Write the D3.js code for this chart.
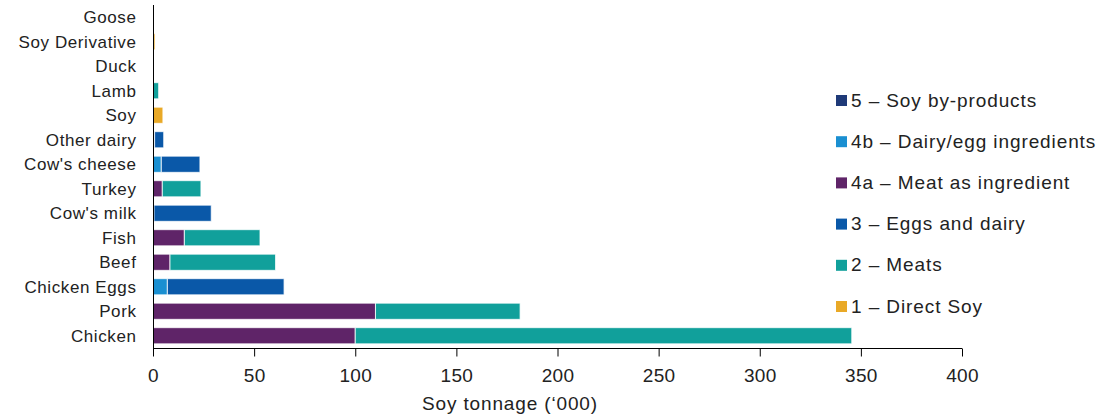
<!DOCTYPE html>
<html><head><meta charset="utf-8">
<script src="https://cdn.jsdelivr.net/npm/d3@7"></script>
<style>body{margin:0;background:#fff;} text{font-family:"Liberation Sans",Arial,sans-serif;}</style>
</head><body>
<svg id="c" width="1098" height="419"></svg>
<script>
const categories = ["Goose","Soy Derivative","Duck","Lamb","Soy","Other dairy","Cow's cheese","Turkey","Cow's milk","Fish","Beef","Chicken Eggs","Pork","Chicken"];
// stacking order left to right
const seriesKeys = ["1 – Direct Soy","4b – Dairy/egg ingredients","4a – Meat as ingredient","3 – Eggs and dairy","2 – Meats","5 – Soy by-products"];
const directSoy   = [0, 1.0, 0, 0, 4.9, 0, 0, 0, 0, 0, 0, 0, 0, 0];
const dairyEggIng = [0, 0, 0, 0, 0, 0.8, 4.1, 0, 0.5, 0, 0, 7.1, 0, 0];
const meatIng     = [0, 0, 0, 0, 0, 0, 0, 4.6, 0, 15.5, 8.4, 0, 110, 100];
const eggsDairy   = [0, 0, 0, 0, 0, 4.5, 19.1, 0, 28.3, 0, 0, 57.7, 0, 0];
const meats       = [0, 0, 0.2, 2.8, 0, 0, 0, 19.1, 0, 37.4, 52.2, 0, 71.5, 245.5];
const soyByProd   = [0, 0, 0, 0, 0, 0, 0, 0, 0, 0, 0, 0, 0, 0];
const seriesData = [directSoy, dairyEggIng, meatIng, eggsDairy, meats, soyByProd];
const colors = {"5 – Soy by-products":"#1f3a78","4b – Dairy/egg ingredients":"#1a8fd1","4a – Meat as ingredient":"#5f2468","3 – Eggs and dairy":"#0a58a8","2 – Meats":"#11a09b","1 – Direct Soy":"#e9a927"};
const legendOrder = ["5 – Soy by-products","4b – Dairy/egg ingredients","4a – Meat as ingredient","3 – Eggs and dairy","2 – Meats","1 – Direct Soy"];
const xTicks = [0,50,100,150,200,250,300,350,400];
const xTitle = "Soy tonnage (\u2018000)";

const rows = categories.map((c,i)=>{const o={cat:c}; seriesKeys.forEach((k,j)=>o[k]=seriesData[j][i]); return o;});
const stack = d3.stack().keys(seriesKeys)(rows);

const svg = d3.select("#c");
const x = d3.scaleLinear().domain([0,400]).range([153,962]);
const y = d3.scaleBand().domain(categories).range([5,348]).paddingInner(0.34).paddingOuter(0.17);

svg.append("g").selectAll("g").data(stack).join("g")
  .attr("fill", d=>colors[d.key])
  .selectAll("rect").data(d=>d.filter(s=>s[1]-s[0]>0)).join("rect")
  .attr("x", d=>x(d[0])).attr("y", d=>y(d.data.cat))
  .attr("width", d=>x(d[1])-x(d[0])).attr("height", y.bandwidth())
  .attr("stroke","#fff").attr("stroke-width",1).attr("stroke-opacity",0.8);

// y axis line
svg.append("line").attr("x1",153.5).attr("x2",153.5).attr("y1",5).attr("y2",348).attr("stroke","#000").attr("stroke-width",1);
// category labels
svg.append("g").selectAll("text").data(categories).join("text")
  .attr("x",136.5).attr("y",d=>y(d)+y.bandwidth()/2).attr("dy","0.35em")
  .attr("text-anchor","end").attr("font-size",17).attr("letter-spacing",0.6).attr("fill","#222").text(d=>d);

// x axis
const xa = svg.append("g").attr("transform","translate(0,348.5)")
  .call(d3.axisBottom(x).tickValues(xTicks).tickSize(8).tickFormat(d3.format("d")));
xa.select(".domain").attr("stroke","#000").attr("d","M153,0H962");
xa.selectAll(".tick line").attr("stroke","#000");
xa.selectAll(".tick text").attr("font-size",19).attr("letter-spacing",0.3).attr("fill","#222").attr("y",20).attr("dy","0.71em")
  .attr("font-family","'Liberation Sans',Arial,sans-serif");
svg.append("text").attr("x",510).attr("y",410).attr("text-anchor","middle").attr("font-size",19).attr("letter-spacing",0.85).attr("fill","#222").text(xTitle);

// legend
const lg = svg.append("g").selectAll("g").data(legendOrder).join("g")
  .attr("transform",(d,i)=>`translate(836,${100+i*41.2})`);
lg.append("rect").attr("x",0).attr("y",-5).attr("width",11).attr("height",11).attr("fill",d=>colors[d]);
lg.append("text").attr("x",15).attr("y",0).attr("dy","0.35em").attr("font-size",19).attr("letter-spacing",0.9).attr("fill","#222").text(d=>d);
</script>
</body></html>
